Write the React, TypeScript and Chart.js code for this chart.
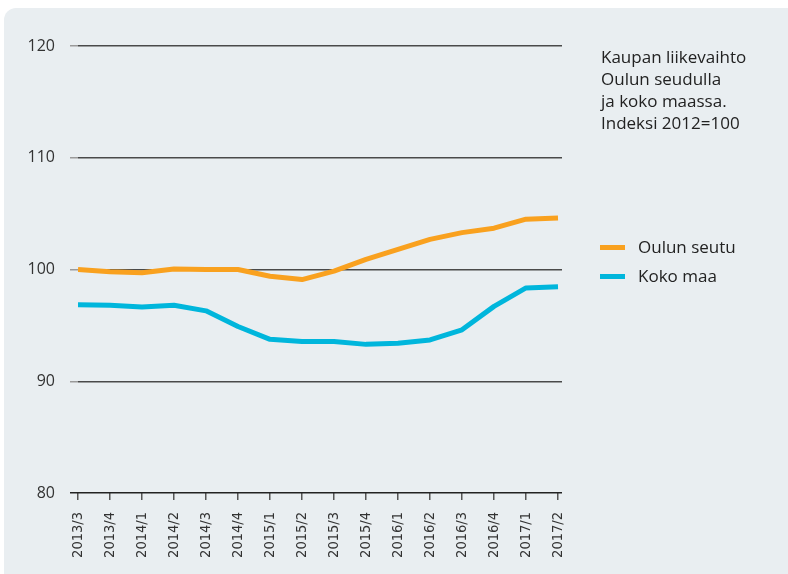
import React, { useEffect, useRef } from "react";
import { Chart, registerables } from "chart.js";

Chart.register(...registerables);

const categories = [
  "2013/3", "2013/4", "2014/1", "2014/2", "2014/3", "2014/4",
  "2015/1", "2015/2", "2015/3", "2015/4", "2016/1", "2016/2",
  "2016/3", "2016/4", "2017/1", "2017/2",
];
const oulunSeutu = [100.0, 99.8, 99.7, 100.05, 100.0, 100.0, 99.4, 99.1, 99.85, 100.9, 101.8, 102.7, 103.3, 103.7, 104.5, 104.6];
const kokoMaa = [96.85, 96.8, 96.65, 96.8, 96.3, 94.9, 93.75, 93.55, 93.55, 93.3, 93.4, 93.7, 94.6, 96.7, 98.35, 98.45];
const yMin = 80;
const yMax = 120;
const yStep = 10;
const seriesNames = ["Oulun seutu", "Koko maa"];
const seriesColors = ["#f9a11f", "#00b6dc"];
const titleLines = ["Kaupan liikevaihto", "Oulun seudulla", "ja koko maassa.", "Indeksi 2012=100"];

const FONT = "'Open Sans', 'Noto Sans', sans-serif";

export default function App() {
  const canvasRef = useRef<HTMLCanvasElement | null>(null);

  useEffect(() => {
    const canvas = canvasRef.current;
    if (!canvas) return;
    const chart = new Chart(canvas, {
      type: "line",
      data: {
        datasets: [
          {
            label: seriesNames[0],
            data: oulunSeutu.map((v, i) => ({ x: i, y: v })),
            borderColor: seriesColors[0],
            backgroundColor: seriesColors[0],
            borderWidth: 5,
            pointRadius: 0,
            tension: 0,
            borderJoinStyle: "round",
          },
          {
            label: seriesNames[1],
            data: kokoMaa.map((v, i) => ({ x: i, y: v })),
            borderColor: seriesColors[1],
            backgroundColor: seriesColors[1],
            borderWidth: 5,
            pointRadius: 0,
            tension: 0,
            borderJoinStyle: "round",
          },
        ],
      },
      options: {
        responsive: false,
        animation: false,
        devicePixelRatio: 1,
        layout: { padding: { left: 8, top: 46, right: 226, bottom: 0 } },
        plugins: { legend: { display: false }, tooltip: { enabled: false }, title: { display: false } },
        scales: {
          x: {
            type: "linear",
            min: 0,
            max: categories.length - 1 + 0.125,
            afterBuildTicks: (scale: any) => {
              scale.ticks = categories.map((_, i) => ({ value: i }));
            },
            afterFit: (scale: any) => {
              scale.height = 81;
            },
            border: { display: false },
            grid: {
              drawOnChartArea: false,
              drawTicks: true,
              tickLength: 7,
              tickColor: "#555",
              lineWidth: 1.5,
            },
            ticks: {
              autoSkip: false,
              includeBounds: false,
              minRotation: 90,
              maxRotation: 90,
              padding: 12,
              color: "#333",
              font: { family: "'Liberation Sans Narrow', 'DejaVu Sans Condensed', 'Roboto', sans-serif", size: 14.5 },
              callback: (v: any) => categories[Number(v)] ?? "",
            },
          },
          y: {
            min: yMin,
            max: yMax,
            afterFit: (scale: any) => {
              scale.width = 70;
            },
            border: { display: false },
            grid: {
              drawTicks: true,
              tickLength: 8,
              color: (ctx: any) => (ctx.tick && ctx.tick.value === yMin ? "#222" : "#4a4a4a"),
              tickColor: (ctx: any) => (ctx.tick && ctx.tick.value === yMin ? "#222" : "#9a9a9a"),
              lineWidth: 1.5,
            },
            ticks: {
              stepSize: yStep,
              padding: 15,
              color: "#333",
              font: { family: FONT, size: 16 },
            },
          },
        },
      },
    });
    return () => chart.destroy();
  }, []);

  return (
    <div style={{ position: "fixed", left: 0, top: 0, width: 788, height: 574, overflow: "hidden", background: "#ffffff" }}>
      <div
        style={{
          position: "absolute",
          left: 4,
          top: 8,
          width: 784,
          height: 566,
          background: "#e9eef1",
          borderTopLeftRadius: 12,
        }}
      />
      <canvas ref={canvasRef} width={788} height={574} style={{ position: "absolute", left: 0, top: 0, width: 788, height: 574 }} />
      <div
        style={{
          position: "absolute",
          left: 601,
          top: 45.6,
          fontFamily: FONT,
          fontSize: 17,
          lineHeight: "22.2px",
          color: "#222",
          whiteSpace: "nowrap",
        }}
      >
        {titleLines.map((t) => (
          <div key={t}>{t}</div>
        ))}
      </div>
      {seriesNames.map((name, i) => (
        <div
          key={name}
          style={{
            position: "absolute",
            left: 600,
            top: [236.5, 265.5][i],
            height: 20,
            fontFamily: FONT,
            fontSize: 17,
            lineHeight: "20px",
            color: "#222",
            whiteSpace: "nowrap",
          }}
        >
          <span
            style={{
              position: "absolute",
              left: 0,
              top: 8,
              width: 25,
              height: 5,
              background: seriesColors[i],
            }}
          />
          <span style={{ position: "absolute", left: 38, top: 0 }}>{name}</span>
        </div>
      ))}
    </div>
  );
}
